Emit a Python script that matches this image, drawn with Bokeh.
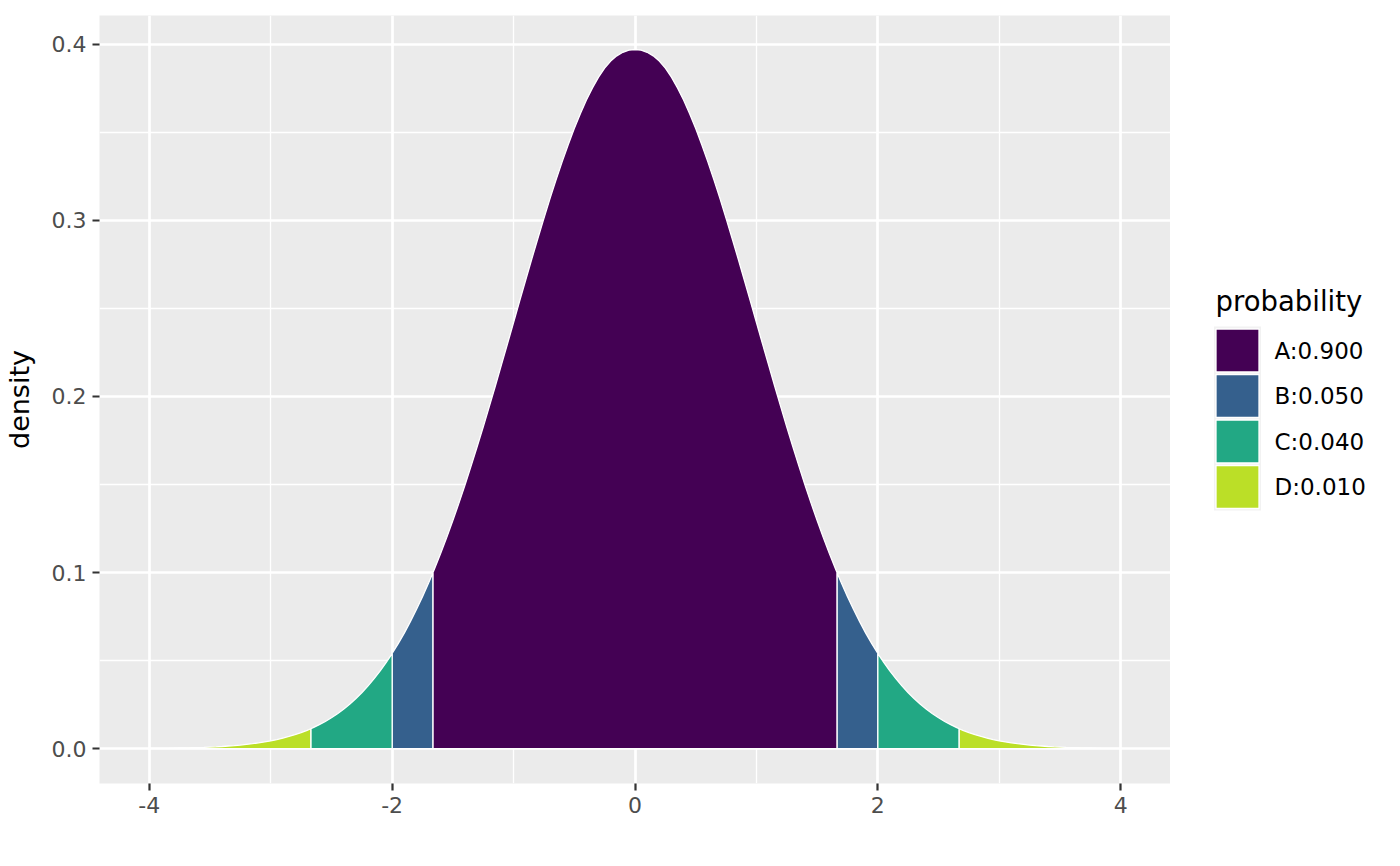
from bokeh.plotting import figure
from bokeh.models import FixedTicker, Range1d
from bokeh.layouts import row
from bokeh.core.properties import value
from bokeh.embed import file_html
from bokeh.resources import INLINE

# ---- data (right half; the curve is symmetric about 0) ----
x_half = [0.00, 0.05, 0.10, 0.15, 0.20, 0.25, 0.30, 0.35, 0.40, 0.45,
          0.50, 0.55, 0.60, 0.65, 0.70, 0.75, 0.80, 0.85, 0.90, 0.95,
          1.00, 1.05, 1.10, 1.15, 1.20, 1.25, 1.30, 1.35, 1.40, 1.45,
          1.50, 1.55, 1.60, 1.65, 1.70, 1.75, 1.80, 1.85, 1.90, 1.95,
          2.00, 2.05, 2.10, 2.15, 2.20, 2.25, 2.30, 2.35, 2.40, 2.45,
          2.50, 2.55, 2.60, 2.65, 2.70, 2.75, 2.80, 2.85, 2.90, 2.95,
          3.00, 3.05, 3.10, 3.15, 3.20, 3.25, 3.30, 3.35, 3.40, 3.45,
          3.50, 3.55, 3.60, 3.65, 3.70, 3.75, 3.80, 3.85, 3.90, 3.95, 4.00]
density_half = [0.3970, 0.3966, 0.3954, 0.3934, 0.3904, 0.3864, 0.3813, 0.3752, 0.3683, 0.3605,
                0.3521, 0.3429, 0.3332, 0.3230, 0.3123, 0.3011, 0.2897, 0.2780, 0.2661, 0.2541,
                0.2420, 0.2299, 0.2179, 0.2059, 0.1942, 0.1826, 0.1714, 0.1604, 0.1497, 0.1394,
                0.1295, 0.1200, 0.1109, 0.1023, 0.0940, 0.0863, 0.0790, 0.0721, 0.0656, 0.0596,
                0.0540, 0.0488, 0.0440, 0.0396, 0.0355, 0.0317, 0.0283, 0.0252, 0.0224, 0.0198,
                0.0175, 0.0154, 0.0136, 0.0119, 0.0104, 0.0091, 0.0079, 0.0069, 0.0060, 0.0051,
                0.0044, 0.0038, 0.0033, 0.0028, 0.0024, 0.0020, 0.0017, 0.0015, 0.0012, 0.0010,
                0.0009, 0.0007, 0.0006, 0.0005, 0.0004, 0.0004, 0.0003, 0.0002, 0.0002, 0.0002, 0.0001]

# region cut points and the density at each cut
cut_x = [-4.0, -2.67, -2.0, -1.665, 1.665, 2.0, 2.67, 4.0]
cut_density = [0.0001, 0.0113, 0.0540, 0.0998, 0.0998, 0.0540, 0.0113, 0.0001]
# region (between consecutive cuts) -> category
region_category = ["D", "C", "B", "A", "B", "C", "D"]

categories = ["A", "B", "C", "D"]
category_labels = ["A:0.900", "B:0.050", "C:0.040", "D:0.010"]
category_colors = ["#440154", "#35608D", "#22A884", "#BBDF27"]
legend_title = "probability"

x_ticks = [-4, -2, 0, 2, 4]
x_minor = [-3, -1, 1, 3]
x_tick_labels = ["-4", "-2", "0", "2", "4"]
y_ticks = [0.0, 0.1, 0.2, 0.3, 0.4]
y_minor = [0.05, 0.15, 0.25, 0.35]
y_tick_labels = ["0.0", "0.1", "0.2", "0.3", "0.4"]
y_label = "density"

# full curve from the symmetric half
x_grid = [-v for v in reversed(x_half[1:])] + x_half
density = list(reversed(density_half[1:])) + density_half

# ---- build polygons per category ----
polys = {c: ([], []) for c in categories}
for i, cat in enumerate(region_category):
    lo, hi = cut_x[i], cut_x[i + 1]
    xs = [lo]
    ys = [cut_density[i]]
    for xv, dv in zip(x_grid, density):
        if lo + 1e-9 < xv < hi - 1e-9:
            xs.append(xv)
            ys.append(dv)
    xs.append(hi)
    ys.append(cut_density[i + 1])
    xs = xs + [hi, lo]
    ys = ys + [0.0, 0.0]
    polys[cat][0].append(xs)
    polys[cat][1].append(ys)

FONT = "DejaVu Sans"
H = 858
FRAME_TOP = 15
FRAME_BOTTOM = 783

p = figure(width=1170, height=H, output_backend="svg", toolbar_location=None,
           x_range=Range1d(-4.41, 4.41), y_range=Range1d(-0.0198, 0.4163),
           min_border_left=99, min_border_right=0, min_border_top=FRAME_TOP,
           min_border_bottom=H - FRAME_BOTTOM)

p.background_fill_color = "#EBEBEB"
p.border_fill_color = "white"
p.outline_line_color = None

p.xaxis.ticker = FixedTicker(ticks=x_ticks, minor_ticks=x_minor)
p.yaxis.ticker = FixedTicker(ticks=y_ticks, minor_ticks=y_minor)
p.xaxis.major_label_overrides = {t: l for t, l in zip(x_ticks, x_tick_labels)}
p.yaxis.major_label_overrides = {t: l for t, l in zip(y_ticks, y_tick_labels)}

for ax in (p.xaxis, p.yaxis):
    ax.axis_line_color = None
    ax.major_tick_line_color = "#333333"
    ax.major_tick_line_width = 2.2
    ax.major_tick_out = 7
    ax.major_tick_in = 0
    ax.minor_tick_line_color = None
    ax.major_label_text_font = FONT
    ax.major_label_text_font_size = "22px"
    ax.major_label_text_color = "#4D4D4D"
    ax.major_label_standoff = 6

p.yaxis.axis_label = y_label
p.yaxis.axis_label_text_font = FONT
p.yaxis.axis_label_text_font_size = "27px"
p.yaxis.axis_label_text_font_style = "normal"
p.yaxis.axis_label_text_color = "black"
p.yaxis.axis_label_standoff = 14

for g in (p.xgrid, p.ygrid):
    g.grid_line_color = "white"
    g.grid_line_width = 2.7
    g.minor_grid_line_color = "white"
    g.minor_grid_line_width = 1.35

for cat, col in zip(categories, category_colors):
    p.patches(xs=polys[cat][0], ys=polys[cat][1], fill_color=col,
              line_color="white", line_width=1.3)

# ---- legend panel (pixel coordinates, y measured from the page top) ----
LW = 222
leg = figure(width=LW, height=H, output_backend="svg", toolbar_location=None,
             x_range=Range1d(0, LW), y_range=Range1d(FRAME_BOTTOM, FRAME_TOP),
             x_axis_type=None, y_axis_type=None,
             min_border_left=0, min_border_right=0, min_border_top=FRAME_TOP,
             min_border_bottom=H - FRAME_BOTTOM)
leg.outline_line_color = None
leg.xgrid.visible = False
leg.ygrid.visible = False
leg.background_fill_color = "white"
leg.border_fill_color = "white"

key_size = 42
key_step = 45.5
key_top = 328
key_left = 45
n = len(categories)
key_y = [key_top + key_step * i + key_step / 2 - 0.75 for i in range(n)]
key_x = [key_left + key_size / 2 + 1] * n

leg.rect(x=[key_left + key_size / 2 + 1], y=[key_top + key_step * n / 2 - 1],
         width=key_size + 5, height=key_step * n + 2, fill_color="#F2F2F2", line_color=None)
leg.rect(x=key_x, y=key_y, width=key_size + 1, height=key_size + 1,
         fill_color=category_colors, line_color="white", line_width=1.3)
leg.text(x=[key_left + key_size + 17] * n, y=key_y, text=category_labels,
         text_font=value(FONT), text_font_size="23px", text_color="black",
         text_baseline="middle", text_align="left")
leg.text(x=[key_left], y=[300], text=[legend_title],
         text_font=value(FONT), text_font_size="27.5px", text_color="black",
         text_baseline="middle", text_align="left")

layout = row(p, leg, spacing=0)
open("out.html", "w").write(file_html(layout, INLINE))
